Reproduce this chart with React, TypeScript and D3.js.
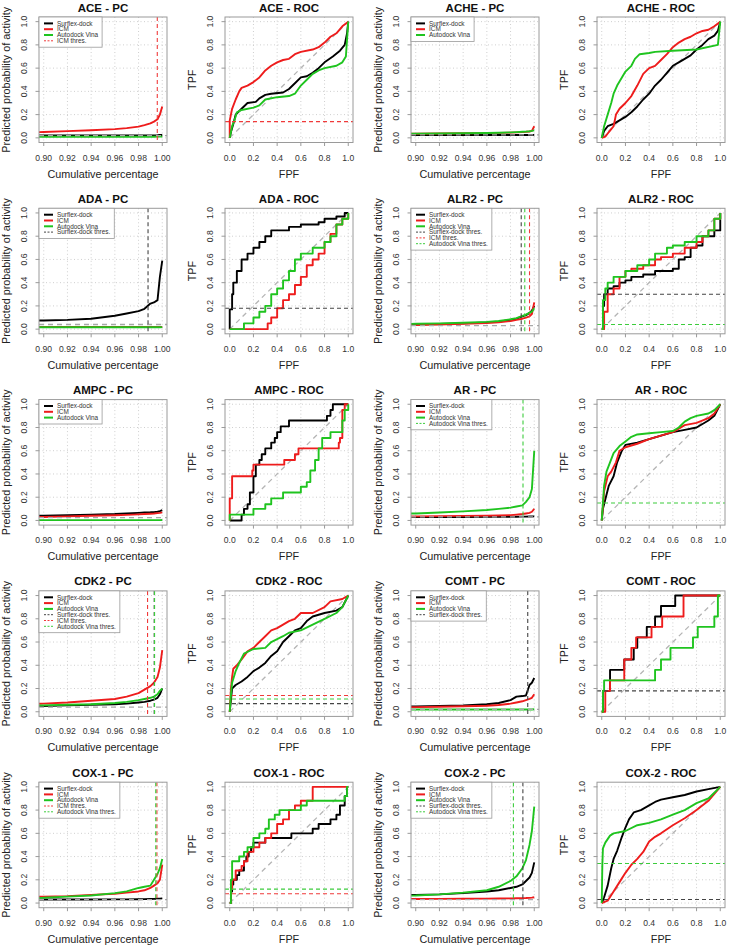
import React from 'react';
import * as d3 from 'd3';

const targets = ['ACE', 'ACHE', 'ADA', 'ALR2', 'AMPC', 'AR', 'CDK2', 'COMT', 'COX-1', 'COX-2'];
const methods = ['Surflex-dock', 'ICM', 'Autodock Vina'];
const methodColors = ['#000000', '#ee1c1c', '#1fc41f'];
const thresColors = ['#444444', '#f03a3a', '#3ccc3c'];

const pcXTicks = [0.9, 0.92, 0.94, 0.96, 0.98, 1.0];
const unitTicks = [0, 0.2, 0.4, 0.6, 0.8, 1.0];

// cumulative percentage points shared by every PC curve
const pcX = [0.89, 0.9, 0.92, 0.94, 0.96, 0.97, 0.98, 0.985, 0.99, 0.993, 0.996, 0.998, 1.0];

// PC curves: [Surflex-dock, ICM, Autodock Vina], values at pcX
const acePc = [
  [0.02, 0.02, 0.02, 0.02, 0.02, 0.02, 0.02, 0.02, 0.02, 0.02, 0.022, 0.024, 0.025],
  [0.048, 0.05, 0.058, 0.065, 0.075, 0.084, 0.097, 0.11, 0.125, 0.14, 0.16, 0.2, 0.27],
  [0.01, 0.01, 0.01, 0.01, 0.01, 0.01, 0.01, 0.01, 0.01, 0.01, 0.011, 0.011, 0.012],
];
const achePc = [
  [0.025, 0.025, 0.025, 0.025, 0.025, 0.025, 0.025, 0.025, 0.025, 0.025, 0.025, 0.025, 0.026],
  [0.035, 0.035, 0.037, 0.039, 0.041, 0.043, 0.045, 0.047, 0.05, 0.052, 0.055, 0.06, 0.1],
  [0.036, 0.036, 0.038, 0.04, 0.042, 0.044, 0.047, 0.049, 0.052, 0.054, 0.057, 0.06, 0.065],
];
const adaPc = [
  [0.073, 0.075, 0.08, 0.09, 0.115, 0.135, 0.155, 0.175, 0.22, 0.23, 0.25, 0.45, 0.59],
  [0.02, 0.02, 0.02, 0.02, 0.02, 0.02, 0.02, 0.02, 0.02, 0.02, 0.02, 0.02, 0.02],
  [0.016, 0.016, 0.016, 0.016, 0.016, 0.016, 0.016, 0.016, 0.016, 0.016, 0.016, 0.016, 0.017],
];
const alr2Pc = [
  [0.04, 0.04, 0.045, 0.05, 0.058, 0.065, 0.08, 0.09, 0.11, 0.12, 0.14, 0.16, 0.2],
  [0.035, 0.035, 0.04, 0.045, 0.052, 0.058, 0.07, 0.08, 0.09, 0.1, 0.11, 0.13, 0.23],
  [0.045, 0.046, 0.05, 0.055, 0.063, 0.07, 0.085, 0.095, 0.115, 0.125, 0.14, 0.15, 0.18],
];
const ampcPc = [
  [0.04, 0.04, 0.045, 0.05, 0.055, 0.06, 0.065, 0.068, 0.07, 0.072, 0.075, 0.08, 0.088],
  [0.03, 0.03, 0.035, 0.04, 0.045, 0.048, 0.052, 0.055, 0.058, 0.06, 0.063, 0.065, 0.07],
  [0.003, 0.003, 0.003, 0.003, 0.003, 0.003, 0.003, 0.003, 0.003, 0.003, 0.003, 0.003, 0.004],
];
const arPc = [
  [0.03, 0.03, 0.03, 0.03, 0.031, 0.031, 0.032, 0.032, 0.033, 0.033, 0.034, 0.034, 0.035],
  [0.035, 0.035, 0.037, 0.039, 0.041, 0.043, 0.046, 0.05, 0.055, 0.06, 0.065, 0.075, 0.1],
  [0.058, 0.06, 0.068, 0.078, 0.09, 0.1, 0.11, 0.12, 0.13, 0.16, 0.2, 0.27, 0.6],
];
const cdk2Pc = [
  [0.05, 0.05, 0.055, 0.06, 0.065, 0.07, 0.08, 0.085, 0.095, 0.105, 0.12, 0.15, 0.2],
  [0.068, 0.07, 0.08, 0.095, 0.11, 0.13, 0.16, 0.19, 0.22, 0.25, 0.3, 0.38, 0.53],
  [0.052, 0.055, 0.06, 0.065, 0.075, 0.085, 0.1, 0.11, 0.12, 0.13, 0.15, 0.18, 0.2],
];
const comtPc = [
  [0.045, 0.045, 0.05, 0.055, 0.065, 0.075, 0.1, 0.13, 0.135, 0.14, 0.23, 0.25, 0.29],
  [0.04, 0.04, 0.043, 0.047, 0.052, 0.058, 0.07, 0.08, 0.09, 0.1, 0.11, 0.12, 0.15],
  [0.02, 0.02, 0.02, 0.02, 0.02, 0.02, 0.02, 0.02, 0.02, 0.02, 0.02, 0.02, 0.021],
];
const cox1Pc = [
  [0.03, 0.03, 0.03, 0.031, 0.032, 0.032, 0.033, 0.034, 0.035, 0.036, 0.037, 0.038, 0.04],
  [0.053, 0.055, 0.06, 0.07, 0.08, 0.09, 0.1, 0.11, 0.13, 0.15, 0.17, 0.2, 0.33],
  [0.043, 0.045, 0.055, 0.065, 0.085, 0.1, 0.13, 0.14, 0.15, 0.2, 0.25, 0.3, 0.38],
];
const cox2Pc = [
  [0.068, 0.07, 0.075, 0.085, 0.1, 0.11, 0.13, 0.14, 0.16, 0.19, 0.22, 0.26, 0.35],
  [0.034, 0.035, 0.036, 0.037, 0.038, 0.039, 0.04, 0.041, 0.042, 0.043, 0.045, 0.047, 0.05],
  [0.063, 0.065, 0.075, 0.09, 0.11, 0.14, 0.19, 0.23, 0.3, 0.37, 0.5, 0.62, 0.83],
];

// ROC curves: [Surflex-dock, ICM, Autodock Vina] as [FPF, TPF]
const aceRoc = [
  [[0, 0], [0.01, 0.05], [0.03, 0.12], [0.05, 0.2], [0.1, 0.25], [0.15, 0.3], [0.22, 0.31], [0.25, 0.34], [0.3, 0.37], [0.35, 0.38], [0.45, 0.39], [0.5, 0.42], [0.55, 0.47], [0.6, 0.52], [0.65, 0.53], [0.7, 0.56], [0.75, 0.6], [0.8, 0.65], [0.87, 0.7], [0.93, 0.75], [0.97, 0.8], [0.99, 0.9], [1, 1]],
  [[0, 0], [0, 0.15], [0.02, 0.25], [0.05, 0.33], [0.08, 0.4], [0.1, 0.43], [0.15, 0.45], [0.2, 0.48], [0.25, 0.52], [0.3, 0.58], [0.35, 0.62], [0.4, 0.65], [0.45, 0.67], [0.5, 0.68], [0.55, 0.72], [0.6, 0.74], [0.7, 0.76], [0.75, 0.78], [0.8, 0.82], [0.85, 0.87], [0.9, 0.9], [0.95, 0.96], [1, 1]],
  [[0, 0], [0.02, 0.1], [0.04, 0.15], [0.06, 0.22], [0.1, 0.24], [0.2, 0.26], [0.25, 0.28], [0.3, 0.33], [0.4, 0.35], [0.5, 0.36], [0.55, 0.38], [0.6, 0.45], [0.65, 0.5], [0.7, 0.55], [0.75, 0.58], [0.8, 0.6], [0.9, 0.62], [0.95, 0.65], [0.98, 0.7], [1, 1]],
];
const acheRoc = [
  [[0, 0], [0.02, 0.06], [0.05, 0.1], [0.1, 0.12], [0.15, 0.15], [0.2, 0.18], [0.25, 0.22], [0.3, 0.27], [0.35, 0.33], [0.4, 0.38], [0.45, 0.45], [0.5, 0.5], [0.55, 0.56], [0.6, 0.62], [0.65, 0.65], [0.7, 0.68], [0.75, 0.71], [0.8, 0.76], [0.85, 0.8], [0.9, 0.85], [0.95, 0.88], [0.98, 0.92], [1, 1]],
  [[0, 0], [0.03, 0.01], [0.06, 0.05], [0.1, 0.1], [0.12, 0.2], [0.15, 0.25], [0.2, 0.3], [0.25, 0.36], [0.3, 0.45], [0.35, 0.55], [0.4, 0.6], [0.45, 0.62], [0.5, 0.67], [0.55, 0.72], [0.6, 0.78], [0.65, 0.82], [0.7, 0.85], [0.75, 0.87], [0.8, 0.9], [0.85, 0.92], [0.9, 0.93], [0.95, 0.96], [1, 1]],
  [[0, 0], [0.02, 0.1], [0.05, 0.2], [0.08, 0.3], [0.1, 0.38], [0.13, 0.45], [0.17, 0.52], [0.2, 0.57], [0.25, 0.62], [0.28, 0.68], [0.32, 0.72], [0.4, 0.73], [0.45, 0.74], [0.6, 0.75], [0.8, 0.76], [0.98, 0.8], [1, 1]],
];
const adaRoc = [
  [[0, 0], [0, 0.17], [0.02, 0.3], [0.03, 0.4], [0.06, 0.5], [0.1, 0.6], [0.15, 0.65], [0.2, 0.7], [0.25, 0.75], [0.3, 0.8], [0.35, 0.85], [0.5, 0.88], [0.6, 0.9], [0.75, 0.92], [0.8, 0.95], [0.9, 0.97], [0.97, 1], [1, 1]],
  [[0, 0], [0.3, 0], [0.32, 0.05], [0.35, 0.1], [0.4, 0.18], [0.45, 0.25], [0.5, 0.3], [0.55, 0.38], [0.6, 0.45], [0.65, 0.55], [0.7, 0.6], [0.75, 0.65], [0.8, 0.75], [0.85, 0.82], [0.9, 0.9], [0.95, 0.95], [1, 1]],
  [[0, 0], [0.1, 0], [0.12, 0.05], [0.2, 0.1], [0.25, 0.15], [0.3, 0.2], [0.35, 0.3], [0.4, 0.35], [0.45, 0.42], [0.5, 0.5], [0.55, 0.6], [0.6, 0.65], [0.7, 0.7], [0.8, 0.75], [0.85, 0.8], [0.9, 0.9], [0.95, 0.95], [1, 1]],
];
const alr2Roc = [
  [[0, 0], [0.01, 0.2], [0.02, 0.3], [0.05, 0.35], [0.1, 0.37], [0.15, 0.4], [0.2, 0.42], [0.25, 0.45], [0.35, 0.47], [0.45, 0.5], [0.6, 0.52], [0.65, 0.6], [0.7, 0.62], [0.75, 0.7], [0.8, 0.72], [0.85, 0.8], [0.95, 0.85], [1, 1]],
  [[0, 0], [0.02, 0.15], [0.05, 0.3], [0.1, 0.35], [0.15, 0.45], [0.2, 0.5], [0.25, 0.52], [0.35, 0.55], [0.45, 0.6], [0.5, 0.62], [0.6, 0.65], [0.7, 0.7], [0.8, 0.75], [0.85, 0.8], [0.9, 0.85], [0.95, 0.95], [1, 1]],
  [[0, 0], [0.01, 0.25], [0.03, 0.35], [0.05, 0.4], [0.1, 0.45], [0.2, 0.5], [0.3, 0.55], [0.4, 0.6], [0.45, 0.65], [0.55, 0.7], [0.6, 0.72], [0.7, 0.75], [0.8, 0.8], [0.9, 0.85], [0.95, 0.95], [1, 1]],
];
const ampcRoc = [
  [[0, 0], [0.08, 0], [0.1, 0.05], [0.12, 0.1], [0.15, 0.14], [0.17, 0.24], [0.2, 0.38], [0.22, 0.48], [0.25, 0.52], [0.27, 0.57], [0.3, 0.62], [0.35, 0.67], [0.38, 0.71], [0.4, 0.76], [0.43, 0.81], [0.5, 0.86], [0.8, 0.86], [0.82, 0.9], [0.85, 0.95], [0.87, 1], [1, 1]],
  [[0, 0], [0, 0.19], [0.02, 0.38], [0.18, 0.38], [0.19, 0.43], [0.2, 0.48], [0.45, 0.48], [0.46, 0.52], [0.55, 0.57], [0.58, 0.62], [0.9, 0.62], [0.92, 0.67], [0.93, 0.71], [0.95, 0.95], [0.97, 1], [1, 1]],
  [[0, 0], [0, 0.05], [0.15, 0.05], [0.2, 0.1], [0.3, 0.14], [0.35, 0.19], [0.45, 0.24], [0.55, 0.24], [0.6, 0.29], [0.65, 0.33], [0.68, 0.43], [0.72, 0.52], [0.75, 0.62], [0.78, 0.71], [0.85, 0.76], [0.93, 0.76], [0.95, 0.86], [0.97, 0.95], [1, 1]],
];
const arRoc = [
  [[0, 0], [0.01, 0.1], [0.03, 0.18], [0.06, 0.3], [0.1, 0.38], [0.13, 0.5], [0.17, 0.6], [0.2, 0.65], [0.3, 0.67], [0.4, 0.7], [0.5, 0.73], [0.6, 0.76], [0.7, 0.78], [0.8, 0.8], [0.9, 0.86], [0.95, 0.9], [1, 1]],
  [[0, 0], [0.01, 0.12], [0.02, 0.25], [0.05, 0.38], [0.08, 0.42], [0.12, 0.5], [0.15, 0.6], [0.2, 0.63], [0.3, 0.66], [0.4, 0.7], [0.5, 0.73], [0.6, 0.76], [0.7, 0.82], [0.8, 0.84], [0.9, 0.88], [0.95, 0.92], [1, 1]],
  [[0, 0], [0.01, 0.15], [0.02, 0.3], [0.04, 0.42], [0.07, 0.5], [0.1, 0.58], [0.15, 0.64], [0.2, 0.68], [0.25, 0.72], [0.3, 0.74], [0.4, 0.75], [0.5, 0.76], [0.6, 0.77], [0.65, 0.8], [0.7, 0.85], [0.75, 0.88], [0.8, 0.9], [0.9, 0.92], [0.95, 0.95], [1, 1]],
];
const cdk2Roc = [
  [[0, 0], [0.01, 0.1], [0.02, 0.2], [0.05, 0.23], [0.1, 0.26], [0.15, 0.3], [0.2, 0.35], [0.25, 0.38], [0.3, 0.42], [0.35, 0.48], [0.4, 0.52], [0.45, 0.6], [0.5, 0.65], [0.55, 0.7], [0.6, 0.72], [0.65, 0.78], [0.7, 0.82], [0.8, 0.85], [0.9, 0.87], [0.95, 0.9], [1, 1]],
  [[0, 0], [0.01, 0.2], [0.02, 0.3], [0.03, 0.37], [0.06, 0.4], [0.1, 0.45], [0.15, 0.52], [0.2, 0.55], [0.25, 0.6], [0.3, 0.65], [0.35, 0.7], [0.4, 0.72], [0.45, 0.75], [0.5, 0.78], [0.55, 0.8], [0.6, 0.85], [0.7, 0.85], [0.8, 0.9], [0.85, 0.95], [0.95, 0.97], [1, 1]],
  [[0, 0], [0.01, 0.15], [0.02, 0.25], [0.05, 0.35], [0.08, 0.42], [0.12, 0.5], [0.2, 0.54], [0.3, 0.55], [0.35, 0.6], [0.45, 0.65], [0.5, 0.68], [0.6, 0.7], [0.7, 0.75], [0.8, 0.8], [0.9, 0.85], [0.95, 0.9], [1, 1]],
];
const comtRoc = [
  [[0, 0], [0.01, 0.18], [0.07, 0.36], [0.19, 0.45], [0.27, 0.55], [0.3, 0.64], [0.38, 0.73], [0.45, 0.82], [0.5, 0.91], [0.62, 1], [1, 1]],
  [[0, 0], [0.03, 0.18], [0.07, 0.27], [0.19, 0.45], [0.25, 0.55], [0.29, 0.64], [0.42, 0.73], [0.51, 0.82], [0.69, 1], [1, 1]],
  [[0, 0], [0.01, 0.18], [0.02, 0.27], [0.45, 0.36], [0.5, 0.45], [0.58, 0.55], [0.77, 0.64], [0.81, 0.73], [0.95, 0.82], [0.98, 1], [1, 1]],
];
const cox1Roc = [
  [[0, 0], [0.01, 0.1], [0.02, 0.16], [0.03, 0.2], [0.06, 0.24], [0.08, 0.28], [0.12, 0.36], [0.14, 0.4], [0.16, 0.44], [0.18, 0.48], [0.2, 0.52], [0.3, 0.56], [0.52, 0.6], [0.7, 0.64], [0.75, 0.68], [0.85, 0.72], [0.9, 0.76], [0.93, 0.84], [0.97, 0.92], [0.99, 1], [1, 1]],
  [[0, 0], [0.01, 0.12], [0.02, 0.2], [0.05, 0.28], [0.1, 0.32], [0.12, 0.36], [0.15, 0.44], [0.2, 0.48], [0.25, 0.52], [0.3, 0.56], [0.35, 0.6], [0.4, 0.68], [0.45, 0.72], [0.5, 0.8], [0.55, 0.84], [0.6, 0.88], [0.7, 1], [1, 1]],
  [[0, 0], [0.01, 0.2], [0.02, 0.36], [0.08, 0.4], [0.12, 0.44], [0.15, 0.48], [0.2, 0.56], [0.25, 0.6], [0.3, 0.64], [0.33, 0.72], [0.38, 0.76], [0.42, 0.8], [0.6, 0.84], [0.65, 0.88], [0.97, 0.92], [0.99, 1], [1, 1]],
];
const cox2Roc = [
  [[0, 0], [0.02, 0.05], [0.05, 0.15], [0.08, 0.3], [0.1, 0.38], [0.13, 0.45], [0.17, 0.57], [0.2, 0.65], [0.23, 0.72], [0.27, 0.78], [0.33, 0.8], [0.4, 0.84], [0.45, 0.87], [0.5, 0.89], [0.6, 0.91], [0.7, 0.93], [0.8, 0.96], [0.9, 0.98], [1, 1]],
  [[0, 0], [0.05, 0.02], [0.1, 0.1], [0.15, 0.18], [0.2, 0.26], [0.25, 0.33], [0.3, 0.38], [0.35, 0.44], [0.4, 0.53], [0.45, 0.57], [0.5, 0.6], [0.6, 0.67], [0.7, 0.73], [0.8, 0.8], [0.9, 0.88], [1, 1]],
  [[0, 0], [0.005, 0.33], [0.01, 0.47], [0.03, 0.52], [0.07, 0.58], [0.1, 0.6], [0.2, 0.62], [0.3, 0.67], [0.4, 0.69], [0.5, 0.72], [0.6, 0.76], [0.7, 0.8], [0.8, 0.86], [0.9, 0.9], [1, 1]],
];

// thresholds per target (null = not drawn)
const pcThresSurflex = [null, null, 0.988, 0.989, null, null, 0.9932, 0.9945, null, 0.9904];
const pcThresIcm = [0.9958, null, null, 0.996, null, null, 0.9876, null, 0.9955, null];
const pcThresVina = [null, null, null, 0.992, null, 0.9905, 0.9935, null, 0.9945, 0.9824];
const rocThresSurflex = [null, null, 0.18, 0.3, null, null, 0.07, 0.18, null, 0.03];
const rocThresIcm = [0.14, null, null, null, null, null, 0.14, null, 0.08, null];
const rocThresVina = [null, null, null, 0.04, null, 0.15, 0.11, null, 0.12, 0.34];
const pcBase = [0.02, 0.025, 0.04, 0.03, 0.025, 0.03, 0.04, 0.02, 0.03, 0.03];
// ROC curves with few actives look like clear steps
const stepRoc = [false, false, true, true, true, false, false, true, true, false];

const pcSeries = [acePc, achePc, adaPc, alr2Pc, ampcPc, arPc, cdk2Pc, comtPc, cox1Pc, cox2Pc];
const rocSeries = [aceRoc, acheRoc, adaRoc, alr2Roc, ampcRoc, arRoc, cdk2Roc, comtRoc, cox1Roc, cox2Roc];

const FONT = '"Liberation Sans", Arial, Helvetica, sans-serif';
const boxW = 128, boxH = 125.5;
const colLeft = (c: number) => 39 + 186 * c;
const rowTop = (r: number) => 17 + 191.3 * r;

let ctx: CanvasRenderingContext2D | null = null;
const textW = (s: string, size: number) => {
  if (!ctx) ctx = document.createElement('canvas').getContext('2d');
  if (!ctx) return s.length * size * 0.52;
  ctx.font = `${size}px "Liberation Sans"`;
  return ctx.measureText(s).width;
};

type Entry = { label: string; color: string; dashed: boolean };

const Legend = ({ left, top, entries }: { left: number; top: number; entries: Entry[] }) => {
  const fs = 6.4, step = 5.8;
  const w = 18 + d3.max(entries, (e) => textW(e.label, fs))! + 4;
  const h = 7 + step * entries.length;
  return (
    <g>
      <rect x={left} y={top} width={w} height={h} fill="#fff" stroke="#9a9a9a" strokeWidth={0.8} />
      {entries.map((e, i) => {
        const cy = top + 3.5 + step * (i + 0.5);
        return (
          <g key={e.label}>
            <line x1={left + 5} x2={left + 14} y1={cy} y2={cy} stroke={e.color}
              strokeWidth={e.dashed ? 1 : 2} strokeDasharray={e.dashed ? '2,1.5' : undefined} />
            <text x={left + 18} y={cy + 2.2} fontSize={fs} fill="#333">{e.label}</text>
          </g>
        );
      })}
    </g>
  );
};

const Frame = (props: any) => {
  const { left, top, title, xLab, yLab, x, y, xTicks, xFmt, clipId, children, legend } = props;
  const bottom = top + boxH;
  return (
    <g>
      <defs>
        <clipPath id={clipId}><rect x={left} y={top} width={boxW} height={boxH} /></clipPath>
      </defs>
      {xTicks.map((t: number) => (
        <line key={'gx' + t} x1={x(t)} x2={x(t)} y1={top} y2={bottom} stroke="#cfcfcf" strokeDasharray="1,2.5" />
      ))}
      {unitTicks.map((t) => (
        <line key={'gy' + t} x1={left} x2={left + boxW} y1={y(t)} y2={y(t)} stroke="#cfcfcf" strokeDasharray="1,2.5" />
      ))}
      <g clipPath={`url(#${clipId})`}>{children}</g>
      <rect x={left} y={top} width={boxW} height={boxH} fill="none" stroke="#9a9a9a" strokeWidth={1} />
      {xTicks.map((t: number) => (
        <g key={'tx' + t}>
          <line x1={x(t)} x2={x(t)} y1={bottom} y2={bottom + 3.5} stroke="#9a9a9a" />
          <text x={x(t)} y={bottom + 18} fontSize={8.6} textAnchor="middle" fill="#333">{xFmt(t)}</text>
        </g>
      ))}
      {unitTicks.map((t) => (
        <g key={'ty' + t}>
          <line x1={left - 3.5} x2={left} y1={y(t)} y2={y(t)} stroke="#9a9a9a" />
          <text transform={`translate(${left - 12},${y(t)}) rotate(-90)`} fontSize={8.6} textAnchor="middle" fill="#333">
            {d3.format('.1f')(t)}
          </text>
        </g>
      ))}
      <text x={left + boxW / 2} y={top - 5.5} fontSize={11.5} fontWeight="bold" textAnchor="middle" fill="#111">{title}</text>
      <text x={left + boxW / 2} y={bottom + 35} fontSize={10.8} textAnchor="middle" fill="#222">{xLab}</text>
      <text transform={`translate(${left - 29.5},${top + boxH / 2}) rotate(-90)`} fontSize={10.8} textAnchor="middle" fill="#222">
        {yLab}
      </text>
      {legend}
    </g>
  );
};

const PcPanel = ({ k }: { k: number }) => {
  const left = colLeft((k % 2) * 2), top = rowTop(Math.floor(k / 2));
  const x = d3.scaleLinear().domain([0.896, 1.004]).range([left, left + boxW]);
  const y = d3.scaleLinear().domain([-0.04, 1.04]).range([top + boxH, top]);
  const line = d3.line<number>().x((_, i) => x(pcX[i])).y((d) => y(d));
  const thres = [pcThresSurflex[k], pcThresIcm[k], pcThresVina[k]];
  const entries: Entry[] = methods.map((m, i) => ({ label: m, color: methodColors[i], dashed: false }));
  thres.forEach((v, i) => {
    if (v != null) entries.push({ label: methods[i] + ' thres.', color: thresColors[i], dashed: true });
  });
  return (
    <Frame left={left} top={top} title={`${targets[k]} - PC`} xLab="Cumulative percentage"
      yLab="Predicted probability of activity" x={x} y={y} xTicks={pcXTicks} xFmt={d3.format('.2f')}
      clipId={`pc${k}`} legend={<Legend left={left} top={top} entries={entries} />}>
      {pcSeries[k].map((s, i) => (
        <path key={i} d={line(s) || ''} fill="none" stroke={methodColors[i]} strokeWidth={1.9} strokeLinejoin="round" />
      ))}
      <line x1={left} x2={left + boxW} y1={y(pcBase[k])} y2={y(pcBase[k])} stroke="#a8a8a8" strokeWidth={1.3} strokeDasharray="5,4" />
      {thres.map((v, i) =>
        v == null ? null : (
          <line key={'th' + i} x1={x(v)} x2={x(v)} y1={top} y2={top + boxH} stroke={thresColors[i]} strokeWidth={1.1} strokeDasharray="4,3" />
        )
      )}
    </Frame>
  );
};

const RocPanel = ({ k }: { k: number }) => {
  const left = colLeft((k % 2) * 2 + 1), top = rowTop(Math.floor(k / 2));
  const x = d3.scaleLinear().domain([-0.04, 1.04]).range([left, left + boxW]);
  const y = d3.scaleLinear().domain([-0.04, 1.04]).range([top + boxH, top]);
  const line = d3.line<number[]>().x((d) => x(d[0])).y((d) => y(d[1]))
    .curve(stepRoc[k] ? d3.curveStepAfter : d3.curveLinear);
  const thres = [rocThresSurflex[k], rocThresIcm[k], rocThresVina[k]];
  return (
    <Frame left={left} top={top} title={`${targets[k]} - ROC`} xLab="FPF" yLab="TPF" x={x} y={y}
      xTicks={unitTicks} xFmt={d3.format('.1f')} clipId={`roc${k}`}>
      <line x1={x(0)} y1={y(0)} x2={x(1)} y2={y(1)} stroke="#b5b5b5" strokeWidth={1.3} strokeDasharray="5,4" />
      {rocSeries[k].map((s, i) => (
        <path key={i} d={line(s) || ''} fill="none" stroke={methodColors[i]} strokeWidth={1.9} strokeLinejoin="round" />
      ))}
      {thres.map((v, i) =>
        v == null ? null : (
          <line key={'th' + i} x1={left} x2={left + boxW} y1={y(v)} y2={y(v)} stroke={thresColors[i]} strokeWidth={1.1} strokeDasharray="4,3" />
        )
      )}
    </Frame>
  );
};

export default function App() {
  return (
    <svg width={730} height={947} fontFamily={FONT} style={{ position: 'absolute', left: 0, top: 0, background: '#fff' }}>
      <rect width={730} height={947} fill="#fff" />
      {targets.map((t, k) => (
        <React.Fragment key={t}>
          <PcPanel k={k} />
          <RocPanel k={k} />
        </React.Fragment>
      ))}
    </svg>
  );
}
